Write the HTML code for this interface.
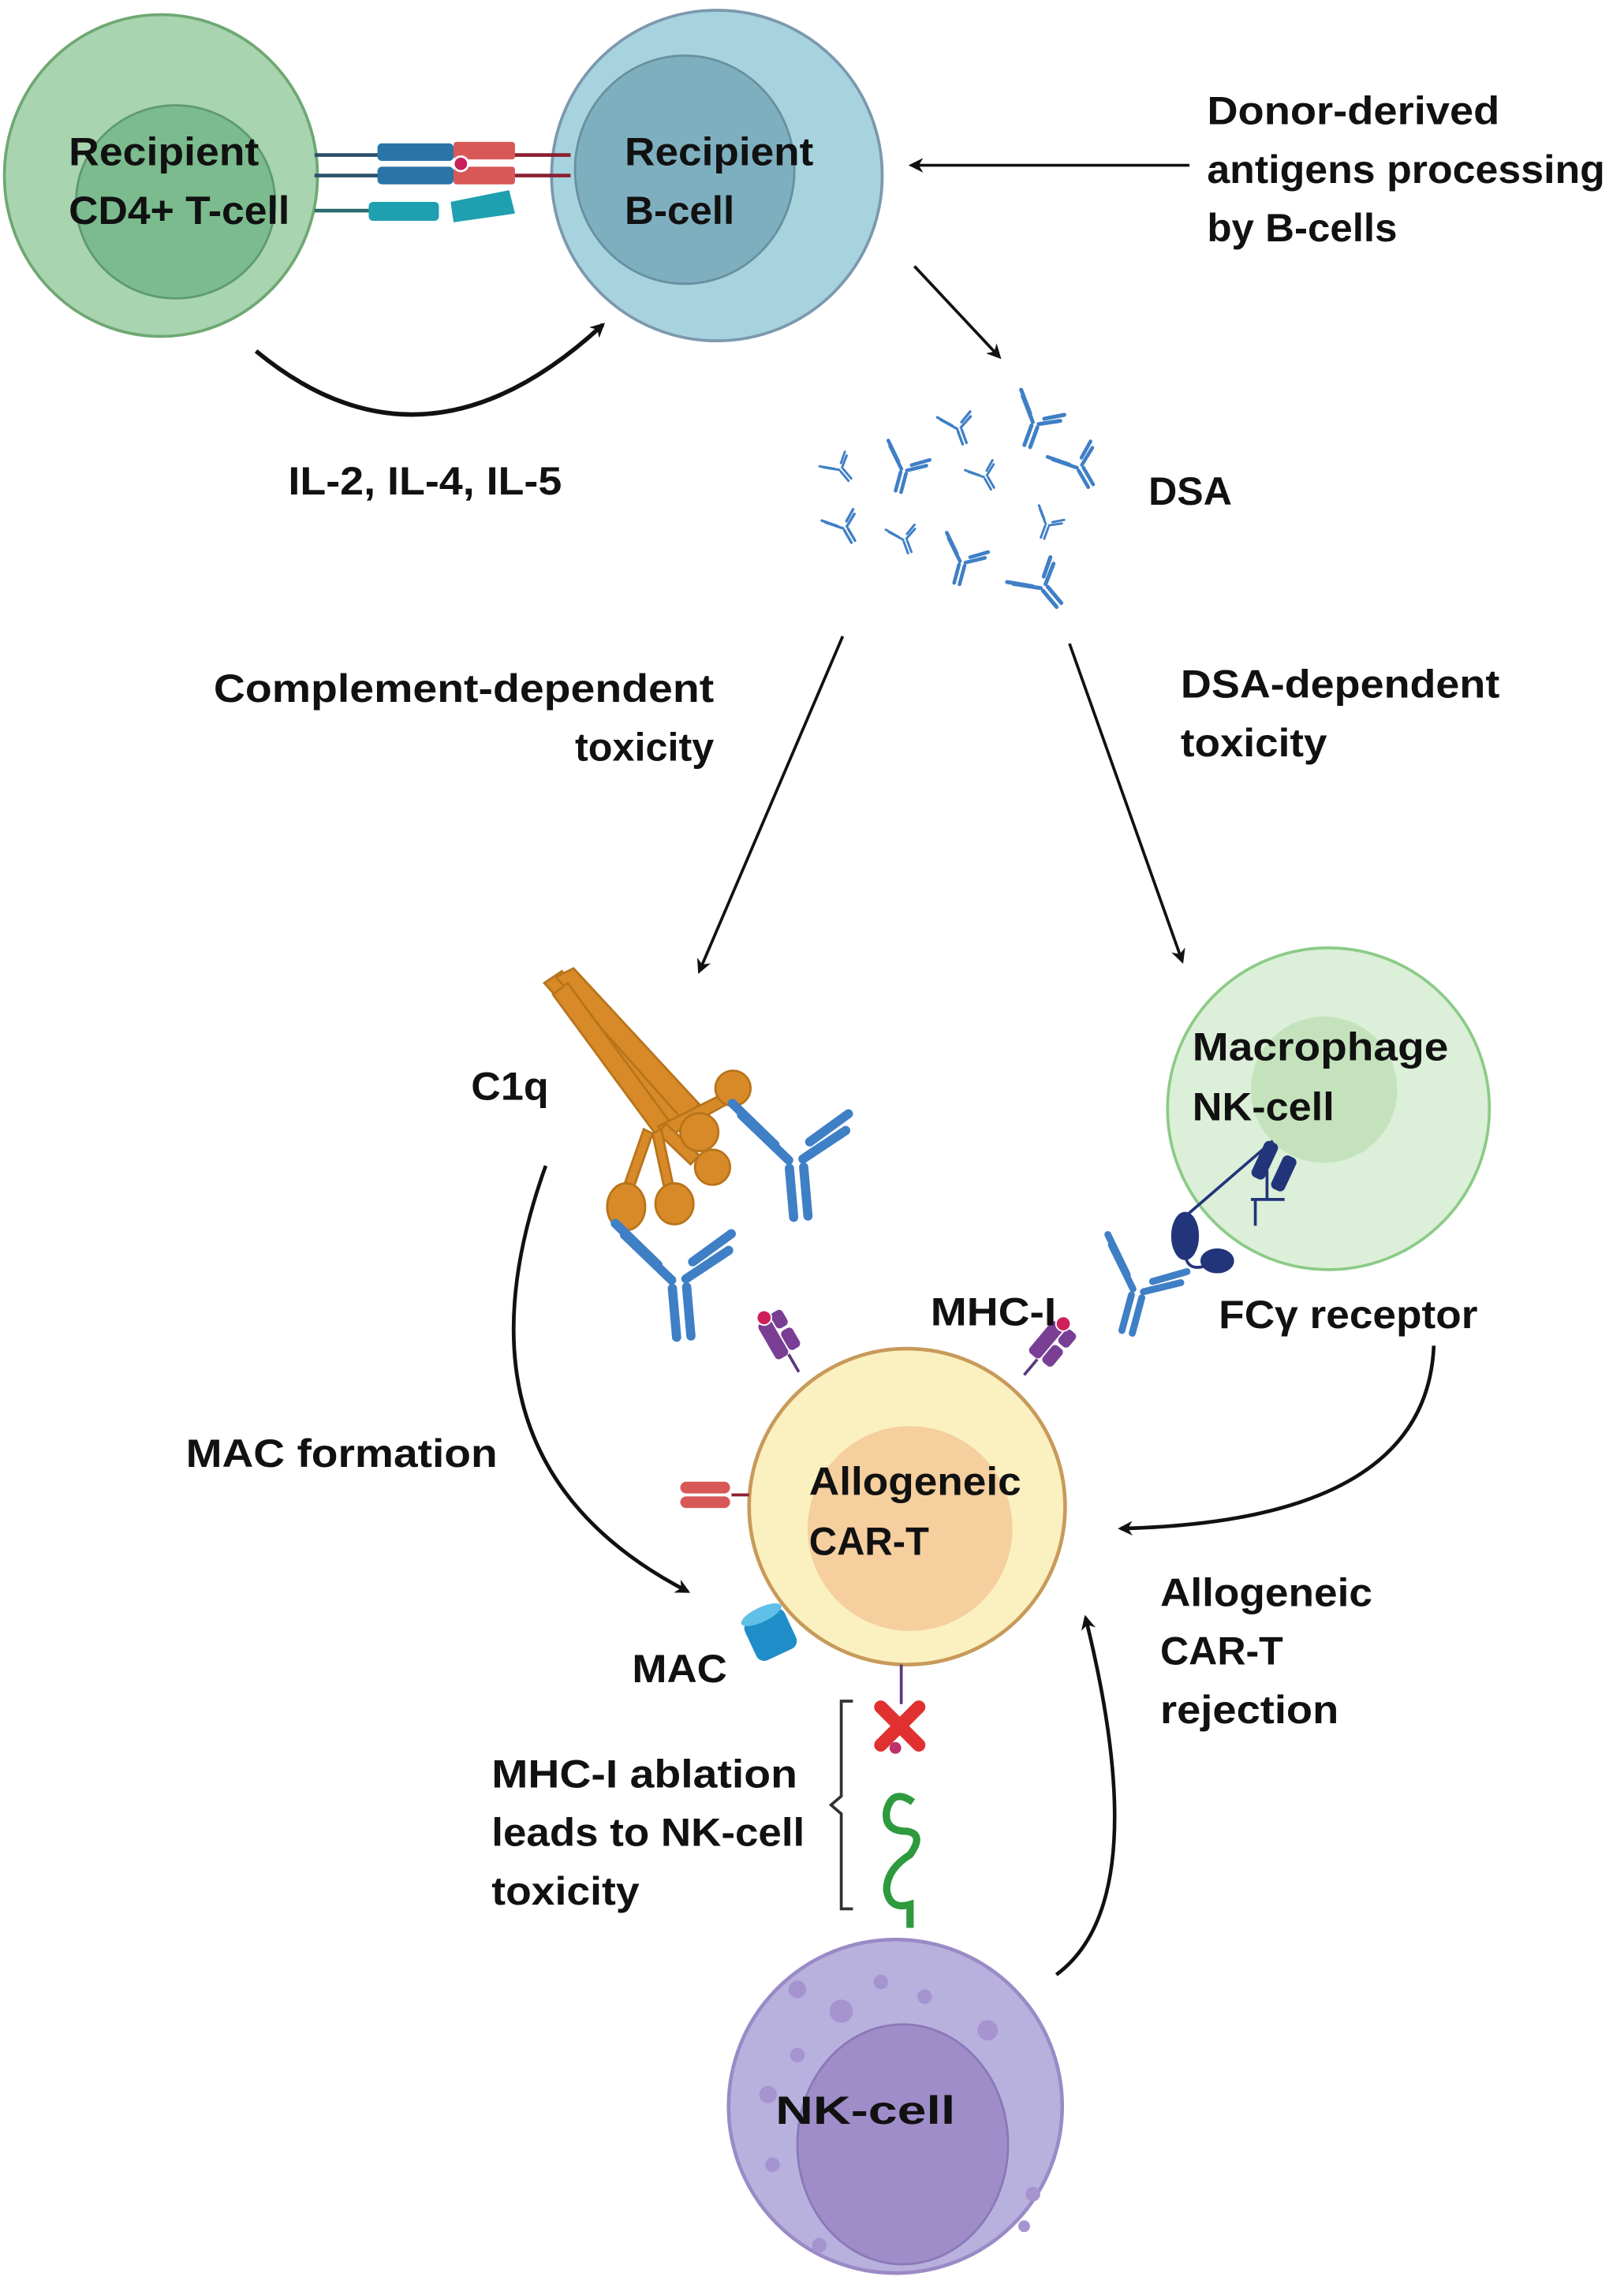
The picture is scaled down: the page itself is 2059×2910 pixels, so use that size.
<!DOCTYPE html>
<html><head><meta charset="utf-8"><style>
html,body{margin:0;padding:0;background:#fff}
svg{display:block}
text{font-family:"Liberation Sans",sans-serif;font-weight:bold;font-size:27px;fill:#111}
</style></head><body>
<svg width="2059" height="2910" viewBox="0 0 1110 1569" preserveAspectRatio="none" xmlns="http://www.w3.org/2000/svg">
<defs>
<marker id="ah" markerWidth="10" markerHeight="10" refX="8" refY="5" orient="auto" markerUnits="userSpaceOnUse">
<path d="M0,0 L10,5 L0,10 L3,5 Z" fill="#111"/></marker>
<g id="ab" stroke="#3f7fc6" stroke-width="4.5" stroke-linecap="round" fill="none">
<path d="M-3,6 L-3,30 M4,6 L4,30"/>
<path d="M-3,2 L-24,-22 M-9,-6 L-28,-28"/>
<path d="M4,2 L26,-10 M8,-6 L28,-18"/>
</g>
<g id="mhc">
<line x1="0" y1="0" x2="0" y2="-14" stroke="#5a3a7a" stroke-width="2"/>
<rect x="-9" y="-42" width="10" height="28" rx="3" fill="#7a3f94"/>
<rect x="2" y="-30" width="9" height="15" rx="3" fill="#7a3f94"/>
<rect x="2" y="-44" width="9" height="12" rx="3" fill="#7a3f94"/>
<circle cx="-2" cy="-44" r="5" fill="#d0205a" stroke="#fff" stroke-width="1"/>
</g>
</defs>

<ellipse cx="110" cy="120" rx="107" ry="110" fill="#a9d4b0" stroke="#6fa872" stroke-width="2"/>
<ellipse cx="120" cy="138" rx="68" ry="66" fill="#7bbb8e" stroke="#5e9a70" stroke-width="1.5"/>
<ellipse cx="490" cy="120" rx="113" ry="113" fill="#a6d3de" stroke="#7c98ae" stroke-width="2"/>
<ellipse cx="468" cy="116" rx="75" ry="78" fill="#7eafbf" stroke="#68909f" stroke-width="1.5"/>

<g stroke-width="2.5">
<line x1="215" y1="106" x2="262" y2="106" stroke="#2a4f6a"/>
<line x1="215" y1="120" x2="262" y2="120" stroke="#2a4f6a"/>
<line x1="350" y1="106" x2="390" y2="106" stroke="#8a2030"/>
<line x1="350" y1="120" x2="390" y2="120" stroke="#8a2030"/>
<line x1="215" y1="144" x2="255" y2="144" stroke="#2a6a6a"/>
</g>
<rect x="258" y="98" width="52" height="12" rx="3" fill="#2a74a8"/>
<rect x="258" y="114" width="52" height="12" rx="3" fill="#2a74a8"/>
<rect x="310" y="97" width="42" height="12" rx="2" fill="#d85858"/>
<rect x="310" y="114" width="42" height="12" rx="2" fill="#d85858"/>
<circle cx="315" cy="112" r="5" fill="#c8205a" stroke="#fff" stroke-width="1.5"/>
<rect x="252" y="138" width="48" height="13" rx="3" fill="#1fa0b0"/>
<path d="M308,138 L348,130 L352,146 L310,152 Z" fill="#1fa0b0"/>

<text x="47" y="113" textLength="130" lengthAdjust="spacingAndGlyphs">Recipient</text>
<text x="47" y="153" textLength="151" lengthAdjust="spacingAndGlyphs">CD4+ T-cell</text>
<text x="427" y="113" textLength="129" lengthAdjust="spacingAndGlyphs">Recipient</text>
<text x="427" y="153" textLength="75" lengthAdjust="spacingAndGlyphs">B-cell</text>

<text x="825" y="85" textLength="200" lengthAdjust="spacingAndGlyphs">Donor-derived</text>
<text x="825" y="125" textLength="272" lengthAdjust="spacingAndGlyphs">antigens processing</text>
<text x="825" y="165" textLength="130" lengthAdjust="spacingAndGlyphs">by B-cells</text>

<g stroke="#111" stroke-width="2" fill="none">
<line x1="813" y1="113" x2="623" y2="113" marker-end="url(#ah)"/>
<line x1="625" y1="182" x2="683" y2="244" marker-end="url(#ah)"/>
<path d="M175,240 Q290,335 412,222" stroke-width="3" marker-end="url(#ah)"/>
<line x1="576" y1="435" x2="478" y2="664" marker-end="url(#ah)"/>
<line x1="731" y1="440" x2="808" y2="657" marker-end="url(#ah)"/>
<path d="M373,797 Q300,1000 470,1088" stroke-width="2.5" marker-end="url(#ah)"/>
<path d="M980,920 Q975,1040 766,1045" stroke-width="2.5" marker-end="url(#ah)"/>
<path d="M722,1350 Q790,1300 742,1106" stroke-width="2.5" marker-end="url(#ah)"/>
</g>
<text x="197" y="338" textLength="187" lengthAdjust="spacingAndGlyphs">IL-2, IL-4, IL-5</text>

<use href="#ab" transform="translate(708,288) rotate(20) scale(0.6)"/>
<use href="#ab" transform="translate(655,292) rotate(-20) scale(0.4)"/>
<use href="#ab" transform="translate(618,320) rotate(15) scale(0.55)"/>
<use href="#ab" transform="translate(574,320) rotate(-40) scale(0.35)"/>
<use href="#ab" transform="translate(673,325) rotate(-30) scale(0.35)"/>
<use href="#ab" transform="translate(737,318) rotate(-30) scale(0.55)"/>
<use href="#ab" transform="translate(577,360) rotate(-30) scale(0.4)"/>
<use href="#ab" transform="translate(618,368) rotate(-20) scale(0.35)"/>
<use href="#ab" transform="translate(716,358) rotate(20) scale(0.35)"/>
<use href="#ab" transform="translate(658,383) rotate(15) scale(0.55)"/>
<use href="#ab" transform="translate(712,400) rotate(-40) scale(0.6)"/>
<text x="785" y="345" textLength="57" lengthAdjust="spacingAndGlyphs">DSA</text>

<text x="146" y="480" textLength="342" lengthAdjust="spacingAndGlyphs">Complement-dependent</text>
<text x="393" y="520" textLength="95" lengthAdjust="spacingAndGlyphs">toxicity</text>
<text x="807" y="477" textLength="218" lengthAdjust="spacingAndGlyphs">DSA-dependent</text>
<text x="807" y="517" textLength="100" lengthAdjust="spacingAndGlyphs">toxicity</text>

<g stroke="#b8741a" stroke-width="1.5" fill="#d88a28">
<path d="M372,672 L384,664 L470,760 L458,770 Z"/>
<path d="M380,668 L392,662 L478,755 L466,765 Z"/>
<path d="M378,680 L388,672 L460,770 L450,778 Z"/>
<path d="M450,770 L500,745 L502,752 L455,778 Z"/>
<path d="M455,768 L478,790 L472,796 L450,775 Z"/>
<path d="M452,772 L460,810 L454,812 L446,775 Z"/>
<path d="M446,775 L432,815 L426,812 L440,772 Z"/>
<circle cx="501" cy="744" r="12"/>
<circle cx="478" cy="774" r="13"/>
<circle cx="487" cy="798" r="12"/>
<ellipse cx="461" cy="823" rx="13" ry="14"/>
<ellipse cx="428" cy="825" rx="13" ry="16"/>
</g>
<text x="322" y="752" textLength="53" lengthAdjust="spacingAndGlyphs">C1q</text>

<use href="#ab" transform="translate(543,790) rotate(-5) scale(1.4)"/>
<use href="#ab" transform="translate(463,872) rotate(-5) scale(1.4)"/>
<use href="#ab" transform="translate(778,880) rotate(15) scale(1.05)"/>

<circle cx="908" cy="758" r="110" fill="#dcefd8" stroke="#8bcb87" stroke-width="2"/>
<circle cx="905" cy="745" r="50" fill="#c4e3bd"/>
<text x="815" y="725" textLength="175" lengthAdjust="spacingAndGlyphs">Macrophage</text>
<text x="815" y="766" textLength="97" lengthAdjust="spacingAndGlyphs">NK-cell</text>
<g fill="#22357a" stroke="#22357a">
<line x1="870" y1="780" x2="812" y2="830" stroke-width="2"/>
<line x1="855" y1="820" x2="878" y2="820" stroke-width="2"/>
<line x1="858" y1="820" x2="858" y2="838" stroke-width="2"/>
<line x1="866" y1="800" x2="866" y2="820" stroke-width="2"/>
<rect x="860" y="780" width="9" height="26" rx="3" transform="rotate(25 864 793)"/>
<rect x="873" y="790" width="9" height="24" rx="3" transform="rotate(25 877 802)"/>
<ellipse cx="810" cy="845" rx="9" ry="16"/>
<path d="M810,858 Q812,870 825,865" fill="none" stroke-width="2"/>
<ellipse cx="832" cy="862" rx="11" ry="8"/>
</g>
<text x="833" y="908" textLength="177" lengthAdjust="spacingAndGlyphs">FCγ receptor</text>

<use href="#mhc" transform="translate(546,938) rotate(-30)"/>
<use href="#mhc" transform="translate(700,940) rotate(40)"/>
<text x="636" y="906" textLength="86" lengthAdjust="spacingAndGlyphs">MHC-I</text>
<circle cx="620" cy="1030" r="108" fill="#fbf0c0" stroke="#c89a5a" stroke-width="2.5"/>
<circle cx="622" cy="1045" r="70" fill="#f5cf9e"/>
<text x="553" y="1022" textLength="145" lengthAdjust="spacingAndGlyphs">Allogeneic</text>
<text x="553" y="1063" textLength="82" lengthAdjust="spacingAndGlyphs">CAR-T</text>
<line x1="500" y1="1022" x2="512" y2="1022" stroke="#8a2030" stroke-width="2"/>
<rect x="465" y="1013" width="34" height="8" rx="4" fill="#d85858"/>
<rect x="465" y="1023" width="34" height="8" rx="4" fill="#d85858"/>
<g transform="translate(528,1118) rotate(-25)">
<rect x="-16" y="-16" width="30" height="30" rx="6" fill="#1f8ec8"/>
<ellipse cx="-1" cy="-16" rx="15" ry="5" fill="#5fc0e8"/>
</g>
<text x="432" y="1150" textLength="65" lengthAdjust="spacingAndGlyphs">MAC</text>
<text x="127" y="1003" textLength="213" lengthAdjust="spacingAndGlyphs">MAC formation</text>

<text x="793" y="1098" textLength="145" lengthAdjust="spacingAndGlyphs">Allogeneic</text>
<text x="793" y="1138" textLength="84" lengthAdjust="spacingAndGlyphs">CAR-T</text>
<text x="793" y="1178" textLength="122" lengthAdjust="spacingAndGlyphs">rejection</text>

<line x1="616" y1="1138" x2="616" y2="1165" stroke="#5a3a7a" stroke-width="2"/>
<g stroke="#e03030" stroke-width="9" stroke-linecap="round">
<line x1="602" y1="1167" x2="628" y2="1193"/>
<line x1="628" y1="1167" x2="602" y2="1193"/>
</g>
<circle cx="612" cy="1195" r="4" fill="#c0306a"/>
<path d="M624,1232 Q610,1222 606,1238 Q604,1252 620,1252 Q632,1254 622,1268 Q606,1278 606,1292 Q608,1306 622,1302 L622,1318" fill="none" stroke="#2e9a3e" stroke-width="5"/>
<path d="M583,1163 L575,1163 L575,1228 L568,1234 L575,1240 L575,1305 L583,1305" fill="none" stroke="#333" stroke-width="2"/>
<text x="336" y="1222" textLength="209" lengthAdjust="spacingAndGlyphs">MHC-I ablation</text>
<text x="336" y="1262" textLength="214" lengthAdjust="spacingAndGlyphs">leads to NK-cell</text>
<text x="336" y="1302" textLength="101" lengthAdjust="spacingAndGlyphs">toxicity</text>

<circle cx="612" cy="1440" r="114" fill="#b8b1de" stroke="#9a8ac6" stroke-width="2.5"/>
<ellipse cx="617" cy="1466" rx="72" ry="82" fill="#9e8dc9" stroke="#8a78b8" stroke-width="1.5"/>
<g fill="#a594d0">
<circle cx="545" cy="1360" r="6"/><circle cx="575" cy="1375" r="8"/><circle cx="602" cy="1355" r="5"/>
<circle cx="632" cy="1365" r="5"/><circle cx="675" cy="1388" r="7"/><circle cx="545" cy="1405" r="5"/>
<circle cx="525" cy="1432" r="6"/><circle cx="528" cy="1480" r="5"/><circle cx="706" cy="1500" r="5"/>
<circle cx="700" cy="1522" r="4"/><circle cx="560" cy="1535" r="5"/>
</g>
<text x="530" y="1452" textLength="123" lengthAdjust="spacingAndGlyphs">NK-cell</text>
</svg>
</body></html>
